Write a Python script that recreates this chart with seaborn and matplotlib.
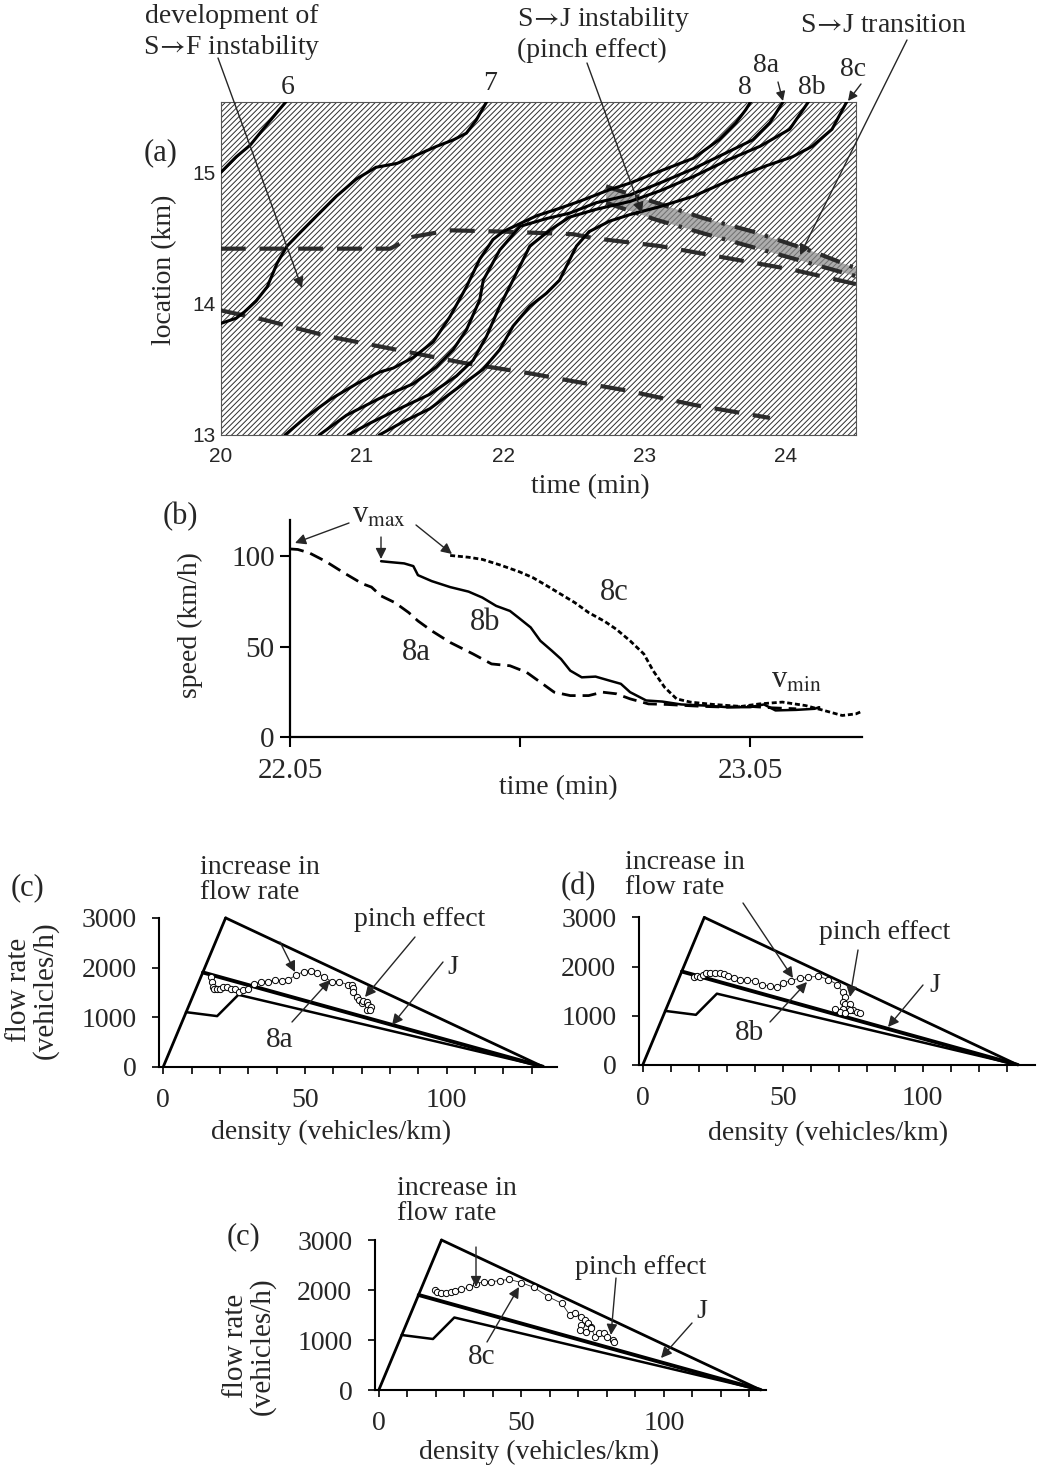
import numpy as np
import matplotlib
matplotlib.use("Agg")
import matplotlib.pyplot as plt
import seaborn as sns
from matplotlib.patches import Rectangle

# ---- panel (a): vehicle trajectories (time in min, location in km)
traj6_t = [20.0, 20.11, 20.21, 20.30, 20.40, 20.47]
traj6_x = [15.0, 15.12, 15.21, 15.33, 15.46, 15.55]

traj7_t = [20.0, 20.11, 20.17, 20.25, 20.33, 20.40, 20.47, 20.56, 20.68, 20.82, 20.96,
           21.10, 21.25, 21.36, 21.53, 21.65, 21.74, 21.81, 21.89]
traj7_x = [13.85, 13.89, 13.94, 14.02, 14.13, 14.31, 14.44, 14.54, 14.67, 14.82, 14.95,
           15.04, 15.07, 15.12, 15.20, 15.25, 15.30, 15.40, 15.55]

traj8_t = [20.455, 20.608, 20.774, 20.962, 21.127, 21.222, 21.363, 21.505, 21.623, 21.741,
           21.835, 21.929, 22.0, 22.236, 22.38, 22.54, 22.755, 22.9, 23.11, 23.35, 23.53,
           23.65, 23.72, 23.76]
traj8_x = [13.0, 13.14, 13.27, 13.39, 13.48, 13.51, 13.59, 13.71, 13.90, 14.13, 14.34, 14.49,
           14.55, 14.67, 14.72, 14.78, 14.87, 14.92, 15.01, 15.11, 15.25, 15.38, 15.48, 15.55]

traj8a_t = [20.698, 20.89, 21.127, 21.363, 21.528, 21.646, 21.74, 21.835, 21.86, 21.977,
            22.12, 22.31, 22.47, 22.66, 22.9, 23.11, 23.35, 23.58, 23.77, 23.89, 23.99]
traj8a_x = [13.0, 13.15, 13.28, 13.39, 13.52, 13.65, 13.80, 14.03, 14.18, 14.41, 14.59, 14.65,
            14.69, 14.77, 14.83, 14.92, 15.03, 15.15, 15.25, 15.38, 15.55]

traj8b_t = [20.903, 21.057, 21.245, 21.481, 21.67, 21.788, 21.882, 21.976, 22.07, 22.19,
            22.33, 22.47, 22.66, 22.9, 23.11, 23.35, 23.58, 23.82, 24.03, 24.17]
traj8b_x = [13.0, 13.09, 13.19, 13.31, 13.45, 13.57, 13.75, 13.98, 14.18, 14.44, 14.56, 14.66,
            14.72, 14.78, 14.86, 14.97, 15.09, 15.20, 15.33, 15.55]

traj8c_t = [21.123, 21.292, 21.481, 21.693, 21.858, 21.976, 22.071, 22.189, 22.307, 22.40,
            22.52, 22.61, 22.755, 22.9, 23.11, 23.35, 23.58, 23.86, 24.05, 24.19, 24.33, 24.44]
traj8c_x = [13.0, 13.10, 13.20, 13.37, 13.50, 13.65, 13.83, 13.98, 14.08, 14.18, 14.44, 14.55,
            14.63, 14.68, 14.74, 14.82, 14.93, 15.05, 15.12, 15.20, 15.33, 15.55]

# fronts (dashed) and jam boundaries (dash-dot)
front_up_t = [20.0, 21.2, 21.36, 21.62, 22.0, 22.5, 22.64, 23.11, 23.58, 24.05, 24.5]
front_up_x = [14.42, 14.42, 14.51, 14.56, 14.55, 14.53, 14.50, 14.44, 14.35, 14.26, 14.15]
front_lo_t = [20.0, 20.30, 20.77, 21.245, 21.717, 22.189, 22.495, 22.87, 23.35, 23.89]
front_lo_x = [13.95, 13.88, 13.75, 13.65, 13.55, 13.47, 13.41, 13.34, 13.23, 13.13]
jam_up_t = [22.73, 23.0, 23.415, 23.77, 24.19, 24.5]
jam_up_x = [14.895, 14.80, 14.654, 14.55, 14.40, 14.27]
jam_lo_t = [22.73, 23.085, 23.44, 23.84, 24.5]
jam_lo_x = [14.77, 14.64, 14.53, 14.41, 14.21]

# ---- panel (b): speed of vehicles 8a, 8b, 8c
v8a_t = [22.05, 22.067, 22.092, 22.127, 22.167, 22.207, 22.227, 22.248, 22.278, 22.308, 22.328,
         22.358, 22.398, 22.448, 22.488, 22.528, 22.564, 22.594, 22.624, 22.659, 22.699, 22.729,
         22.759, 22.789, 22.829, 22.869, 22.91, 22.95, 23.0, 23.05, 23.1, 23.15]
v8a_v = [104, 103.7, 101.8, 97.2, 90.8, 84.8, 82.9, 78, 74.3, 68.8, 64.2, 58.7, 52.3, 45.9, 40.4,
         39.4, 35.8, 30.3, 24.8, 22.9, 22.9, 24.8, 23.9, 21.1, 18.3, 18, 17.4, 16.9, 16.5, 16.9,
         16.1, 15.6]
v8b_t = [22.248, 22.268, 22.298, 22.318, 22.328, 22.358, 22.398, 22.438, 22.468, 22.498, 22.528,
         22.548, 22.573, 22.594, 22.619, 22.639, 22.659, 22.684, 22.714, 22.744, 22.769, 22.789,
         22.824, 22.859, 22.9, 22.95, 23.0, 23.05, 23.08, 23.105, 23.15, 23.19, 23.2]
v8b_v = [97.2, 96.7, 96, 94.5, 89.5, 86.2, 82.9, 80.4, 77.1, 72.5, 69.7, 65.7, 60.6, 53.2, 47.7,
         43.1, 36.7, 33, 33.4, 31.2, 29.4, 24.8, 20.2, 19.6, 18, 17.4, 16.5, 16.5, 18, 14.7, 15,
         15.6, 16.5]
v8c_t = [22.398, 22.438, 22.468, 22.508, 22.548, 22.578, 22.609, 22.639, 22.669, 22.699, 22.734,
         22.759, 22.789, 22.819, 22.839, 22.864, 22.89, 22.92, 22.97, 23.03, 23.07, 23.12, 23.17,
         23.21, 23.25, 23.28, 23.3]
v8c_v = [100.4, 99.4, 98.2, 95, 91.4, 88.1, 83.5, 78.9, 74.3, 68.8, 63.9, 59.6, 53.2, 45.9, 36.7,
         27.5, 21.1, 19.3, 18, 16.9, 18.3, 19.3, 17.4, 14.7, 11.9, 12.8, 15]

# ---- panels (c), (d), (c): flow-density plane
free_d, free_q = [0, 22], [0, 3000]
syn_up_d, syn_up_q = [22, 134], [3000, 0]
line_j_d, line_j_q = [14, 134], [1900, 0]
syn_lo_d, syn_lo_q = [8, 19, 26.5, 134], [1100, 1020, 1450, 0]

p8a_d = [16.8, 17.1, 17.4, 17.9, 18.8, 20.0, 21.2, 22.6, 23.9, 25.3, 26.8, 28.2, 30.0, 32.0, 34.4,
         36.8, 39.4, 41.8, 44.1, 46.8, 49.6, 52.0, 54.1, 56.7, 59.4, 62.1, 65.3, 66.5, 67.1, 67.1,
         68.2, 69.2, 70.0, 70.6, 71.8, 72.4, 71.8, 73.2, 72.9]
p8a_q = [1816, 1715, 1614, 1560, 1560, 1560, 1600, 1614, 1567, 1560, 1513, 1547, 1560, 1668, 1715,
         1715, 1748, 1735, 1748, 1849, 1917, 1937, 1896, 1816, 1715, 1715, 1648, 1648, 1580, 1513,
         1412, 1345, 1278, 1332, 1311, 1244, 1143, 1210, 1143]
p8b_d = [18.3, 19.3, 20.5, 21.4, 22.6, 24.0, 25.8, 27.6, 29.0, 30.6, 32.6, 34.8, 37.1, 40.1, 42.5,
         45.5, 48.1, 50.2, 52.9, 56.0, 59.2, 62.7, 66.3, 69.5, 71.4, 72.3, 71.4, 72.3, 74.0, 73.3,
         75.2, 76.4, 74.0, 71.7, 70.5, 68.7, 72.3, 77.6]
p8b_q = [1785, 1818, 1798, 1838, 1865, 1879, 1879, 1865, 1852, 1818, 1771, 1737, 1737, 1704, 1636,
         1596, 1582, 1663, 1717, 1764, 1784, 1805, 1737, 1636, 1481, 1380, 1279, 1246, 1246, 1145,
         1111, 1077, 1111, 1145, 1077, 1145, 1057, 1057]
p8c_d = [19.8, 20.4, 21.7, 23.6, 25.4, 26.9, 29.0, 31.5, 34.0, 36.8, 39.5, 42.4, 45.8, 50.0, 54.4,
         59.4, 64.2, 67.0, 68.9, 70.8, 72.3, 73.3, 74.3, 70.8, 70.5, 72.7, 74.6, 75.8, 77.1, 79.0,
         80.2, 82.1, 82.7]
p8c_q = [2000, 1967, 1947, 1947, 1960, 1987, 2013, 2053, 2120, 2167, 2167, 2187, 2213, 2147, 2053,
         1867, 1733, 1500, 1533, 1467, 1400, 1333, 1267, 1300, 1200, 1167, 1233, 1067, 1133, 1133,
         1053, 1000, 967]

# ------------------------------------------------------------------
sns.set_theme(style="white")
plt.rcParams["font.family"] = ["Liberation Serif", "DejaVu Serif"]
plt.rcParams["mathtext.fontset"] = "stix"
plt.rcParams["hatch.linewidth"] = 0.7

INK = "#262626"
ARR = r"$\!\rightarrow\!$"
W, H = 1039, 1470
fig = plt.figure(figsize=(W / 100, H / 100), dpi=100)
fig.patch.set_facecolor("white")


def rect(l, t, r, b):
    return [l / W, 1 - b / H, (r - l) / W, (b - t) / H]


def txt(x, y, s, size=20, **kw):
    kw.setdefault("ha", "center")
    kw.setdefault("va", "center")
    fig.text(x / W, 1 - y / H, s, fontsize=size, color=INK, **kw)


def arrow(ax, tail, head, lw=1.0, ms=16):
    ax.annotate("", xy=(head[0], H - head[1]), xycoords="figure pixels",
                xytext=(tail[0], H - tail[1]), textcoords="figure pixels",
                arrowprops=dict(arrowstyle="-|>", color=INK, lw=lw, mutation_scale=ms,
                                shrinkA=0, shrinkB=0), zorder=20)


def line(ax, x, y, **kw):
    sns.lineplot(x=x, y=y, ax=ax, sort=False, estimator=None, **kw)


# ---------------- (a)
axa = fig.add_axes(rect(220.7, 101.7, 856, 435))
axa.set_xlim(20, 24.5)
axa.set_ylim(13, 15.54)
axa.add_patch(Rectangle((0, 0), 1, 1, transform=axa.transAxes, facecolor="white",
                        edgecolor="#2e2e2e", hatch="//////", lw=0, zorder=0))
axa.fill(np.concatenate([jam_up_t, jam_lo_t[::-1]]), np.concatenate([jam_up_x, jam_lo_x[::-1]]),
         color="#8a8a8a", alpha=0.7, lw=0, zorder=1)
for t, x in [(front_up_t, front_up_x), (front_lo_t, front_lo_x)]:
    line(axa, t, x, color="#2b2b2b", lw=3, linestyle=(0, (6, 3.3)), zorder=3)
for t, x in [(jam_up_t, jam_up_x), (jam_lo_t, jam_lo_x)]:
    line(axa, t, x, color="#2b2b2b", lw=3, linestyle=(0, (5, 2.5, 0.8, 2.5)), zorder=3)
for t, x in [(traj6_t, traj6_x), (traj7_t, traj7_x), (traj8_t, traj8_x),
             (traj8a_t, traj8a_x), (traj8b_t, traj8b_x), (traj8c_t, traj8c_x)]:
    line(axa, t, x, color="black", lw=2.2, zorder=4)
axa.set_xticks([20, 21, 22, 23, 24], labels=["20", "21", "22", "23", "24"],
               fontfamily="Liberation Sans")
axa.set_yticks([13, 14, 15], labels=["13", "14", "15"], fontfamily="Liberation Sans")
axa.tick_params(length=0, labelsize=15, labelcolor=INK)
axa.tick_params(axis="x", pad=9)
axa.tick_params(axis="y", pad=4)
for s in axa.spines.values():
    s.set_color("#555555")
    s.set_linewidth(0.8)

txt(161, 153, "(a)", size=22)
txt(165, 270, "location (km)", rotation=90)
txt(590, 487, "time (min)")
txt(232, 33, "development of\nS" + ARR + "F instability", linespacing=1.15)
arrow(axa, (218, 58), (302, 288))
txt(517, 34, "S" + ARR + "J instability\n(pinch effect)", ha="left", linespacing=1.15)
arrow(axa, (587, 63), (642, 213))
txt(883, 25, "S" + ARR + "J transition")
arrow(axa, (907, 40), (800, 255))
txt(288, 87, "6")
txt(490, 84, "7")
txt(745, 87, "8")
txt(766, 65, "8a")
arrow(axa, (778, 82), (783, 101), ms=14)
txt(812, 87, "8b")
txt(853, 70, "8c")
arrow(axa, (861, 84), (848, 101), ms=14)

# ---------------- (b)
axb = fig.add_axes(rect(290, 520, 862, 737))
axb.set_xlim(22.05, 23.293)
axb.set_ylim(0, 120)
line(axb, v8a_t, v8a_v, color="black", lw=2, linestyle=(0, (5, 2.5)))
line(axb, v8b_t, v8b_v, color="black", lw=1.8)
line(axb, v8c_t, v8c_v, color="black", lw=2, linestyle=(0, (1.8, 1.0)))
for side in ["top", "right"]:
    axb.spines[side].set_visible(False)
for side in ["left", "bottom"]:
    axb.spines[side].set_color("black")
    axb.spines[side].set_linewidth(1.6)
axb.set_xticks([22.05, 22.55, 23.05], labels=["22.05", "", "23.05"])
axb.set_yticks([0, 50, 100])
axb.tick_params(bottom=True, left=True, direction="out", length=7, width=1.5,
                labelsize=21, labelcolor=INK, color="black")
axb.tick_params(axis="x", pad=8)
axb.tick_params(axis="y", pad=4)

txt(180, 517, "(b)", size=22)
txt(190, 625, "speed (km/h)", rotation=90)
txt(558, 788, "time (min)")
txt(379, 515, r"v$_{\rm max}$", size=22)
arrow(axb, (349, 523), (295, 543))
arrow(axb, (381, 537), (381, 559))
arrow(axb, (416, 525), (452, 554))
txt(614, 592, "8c", size=22)
txt(485, 622, "8b", size=22)
txt(416, 652, "8a", size=22)
txt(796, 680, r"v$_{\rm min}$", size=22)


# ---------------- flow-density panels
def fd_panel(x0, y0, px10, pxq, xmax, pts_d, pts_q):
    # x0/y0: pixel of origin, px10: pixels per 10 veh/km, pxq: pixels per 1000 veh/h
    left = x0 - 1.5 * px10 / 10
    right = x0 + xmax * px10 / 10
    top = y0 - 3 * pxq
    ax = fig.add_axes(rect(left, top, right, y0))
    ax.set_xlim(-1.5, xmax)
    ax.set_ylim(0, 3000)
    line(ax, free_d, free_q, color="black", lw=2, clip_on=False)
    line(ax, syn_up_d, syn_up_q, color="black", lw=2, clip_on=False)
    line(ax, line_j_d, line_j_q, color="black", lw=2.8)
    line(ax, syn_lo_d, syn_lo_q, color="black", lw=1.8)
    line(ax, pts_d, pts_q, color=INK, lw=0.6, marker="o", ms=4.5, mfc="white",
         mec="black", mew=0.7, zorder=5)
    for side in ["top", "right"]:
        ax.spines[side].set_visible(False)
    for side in ["left", "bottom"]:
        ax.spines[side].set_color("black")
        ax.spines[side].set_linewidth(1.5)
    ticks = list(range(0, int(xmax), 10))
    ax.set_xticks(ticks, labels=[str(v) if v % 50 == 0 else "" for v in ticks])
    ax.set_yticks([0, 1000, 2000, 3000])
    ax.tick_params(bottom=True, left=True, direction="out", length=5, width=1.2,
                   labelsize=20, labelcolor=INK, color="black")
    ax.tick_params(axis="x", pad=10)
    ax.tick_params(axis="y", pad=11)
    return ax


axc = fd_panel(163.3, 1066.7, 28.33, 49.6, 139, p8a_d, p8a_q)
txt(27, 888, "(c)", size=22)
txt(32, 990, "flow rate\n(vehicles/h)", rotation=90, size=21, linespacing=1.0)
txt(331, 1132, "density (vehicles/km)")
txt(200, 880, "increase in\nflow rate", ha="left", linespacing=1.05)
arrow(axc, (280, 942), (295, 972))
txt(420, 920, "pinch effect")
arrow(axc, (415, 937), (365, 997))
txt(453, 967, "J")
arrow(axc, (443, 962), (392, 1025))
txt(280, 1040, "8a", size=21)
arrow(axc, (292, 1022), (330, 980))

axd = fd_panel(642.7, 1065, 28.0, 49.2, 140, p8b_d, p8b_q)
txt(578, 887, "(d)", size=22)
txt(828, 1133, "density (vehicles/km)")
txt(625, 875, "increase in\nflow rate", ha="left", linespacing=1.05)
arrow(axd, (743, 903), (793, 978))
txt(885, 933, "pinch effect")
arrow(axd, (858, 950), (850, 997))
txt(935, 985, "J")
arrow(axd, (923, 985), (888, 1027))
txt(750, 1033, "8b", size=21)
arrow(axd, (770, 1022), (807, 982))

axe = fd_panel(378.8, 1390, 28.5, 50.0, 136, p8c_d, p8c_q)
txt(243, 1237, "(c)", size=22)
txt(249, 1346, "flow rate\n(vehicles/h)", rotation=90, size=21, linespacing=1.0)
txt(539, 1452, "density (vehicles/km)")
txt(397, 1201, "increase in\nflow rate", ha="left", linespacing=1.05)
arrow(axe, (476, 1247), (476, 1287))
txt(641, 1268, "pinch effect")
arrow(axe, (616, 1278), (611, 1335))
txt(702, 1312, "J")
arrow(axe, (692, 1323), (661, 1358))
txt(482, 1357, "8c", size=21)
arrow(axe, (487, 1342), (519, 1287))

fig.savefig("out.png", dpi=100, facecolor="white")
